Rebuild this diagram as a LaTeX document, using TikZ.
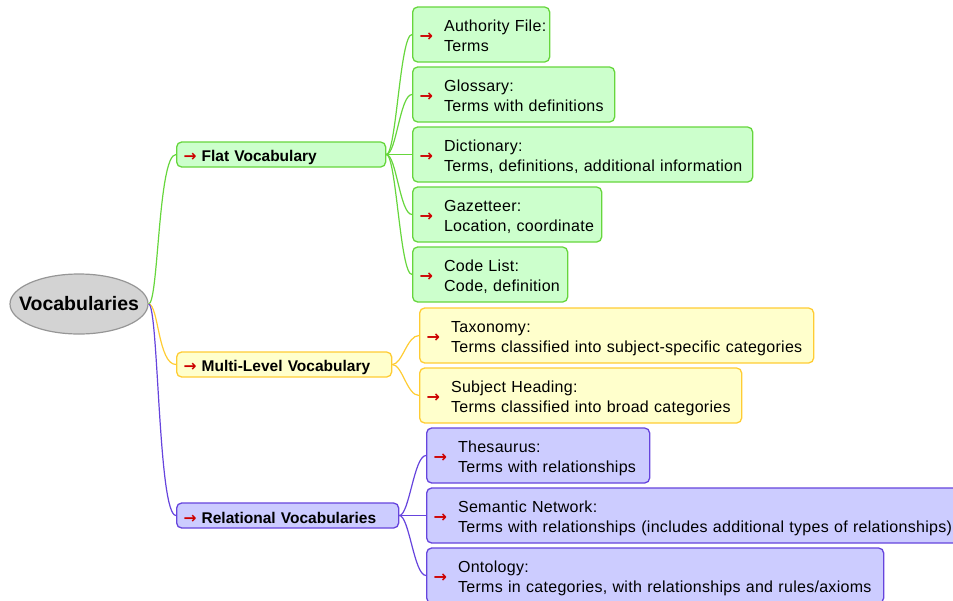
\documentclass[tikz,border=0pt]{standalone}
\usepackage{fontspec}
\setmainfont{Liberation Sans}
\newfontfamily\leaffont[LetterSpace=1.8]{Liberation Sans}
\newfontfamily\arrowfont{DejaVu Sans}
\usetikzlibrary{shapes.geometric}
\definecolor{gfill}{RGB}{204,255,204}
\definecolor{gline}{RGB}{102,214,60}
\definecolor{yfill}{RGB}{255,255,204}
\definecolor{yline}{RGB}{255,204,51}
\definecolor{bfill}{RGB}{204,204,255}
\definecolor{bline}{RGB}{102,68,221}
\definecolor{arrred}{RGB}{204,0,0}
\definecolor{rootfill}{RGB}{211,211,211}
\definecolor{rootline}{RGB}{150,150,150}
\newcommand\redarr{{\arrowfont\bfseries\color{arrred}\char"2192}}
\newcommand\leafcontent[2]{\raisebox{-2.5pt}[\height][\depth]{\redarr\hspace{11pt}\begin{tabular}{@{}l@{}}#1\\#2\end{tabular}}}
\newcommand\branchcontent[1]{\raisebox{-2.5pt}[\height][\depth]{\redarr\hspace{5pt}#1}}
\tikzset{
  leafbox/.style={draw, rounded corners=5pt, line width=1.3pt, anchor=west,
    inner xsep=7pt, inner ysep=0pt, minimum height=55pt, text width=#1-14pt,
    align=left, font=\leaffont\fontsize{16}{20}\selectfont},
  branchbox/.style={draw, rounded corners=5pt, line width=1.3pt, anchor=west,
    inner xsep=7pt, inner ysep=0pt, minimum height=25pt, text width=#1-14pt,
    align=left, font=\fontsize{15.5}{18}\selectfont\bfseries},
  green/.style={fill=gfill, draw=gline},
  yellow/.style={fill=yfill, draw=yline},
  blue/.style={fill=bfill, draw=bline},
  conn/.style={line width=1.2pt},
}
\begin{document}
\begin{tikzpicture}[x=1pt,y=-1pt]
\useasboundingbox (0,0) rectangle (953,600);
\clip (0,0) rectangle (953,600);
% root
\node[ellipse, fill=rootfill, draw=rootline, line width=1.2pt, minimum width=138pt, minimum height=60pt,
  inner xsep=-12pt, inner ysep=0pt, font=\fontsize{19.5}{22}\selectfont\bfseries] (root) at (79,304) {Vocabularies};
% branches
\node[branchbox=209pt, green] (flat) at (176,154.5) {\branchcontent{Flat Vocabulary}};
\node[branchbox=215pt, yellow] (multi) at (176,364.5) {\branchcontent{Multi-Level Vocabulary}};
\node[branchbox=222pt, blue] (rel) at (176,515.5) {\branchcontent{Relational Vocabularies}};
% green leaves
\node[leafbox=137pt, green] (auth) at (412,34.5) {\leafcontent{Authority File:}{Terms}};
\node[leafbox=202pt, green] (gloss) at (412,94.5) {\leafcontent{Glossary:}{Terms with definitions}};
\node[leafbox=340pt, green] (dict) at (412,154.5) {\leafcontent{Dictionary:}{Terms, definitions, additional information}};
\node[leafbox=189pt, green] (gaz) at (412,214.5) {\leafcontent{Gazetteer:}{Location, coordinate}};
\node[leafbox=155pt, green] (code) at (412,274.5) {\leafcontent{Code List:}{Code, definition}};
% yellow leaves
\node[leafbox=394pt, yellow] (tax) at (419,335.5) {\leafcontent{Taxonomy:}{Terms classified into subject-specific categories}};
\node[leafbox=322pt, yellow] (subj) at (419,395.5) {\leafcontent{Subject Heading:}{Terms classified into broad categories}};
% blue leaves
\node[leafbox=223pt, blue] (thes) at (426,455.5) {\leafcontent{Thesaurus:}{Terms with relationships}};
\node[leafbox=540pt, blue] (sem) at (426,515.5) {\leafcontent{Semantic Network:}{Terms with relationships (includes additional types of relationships)}};
\node[leafbox=457pt, blue] (onto) at (426,575.5) {\leafcontent{Ontology:}{Terms in categories, with relationships and rules/axioms}};
% connectors
\draw[conn, gline] (root.east) .. controls +(10,0) and +(-18,0) .. (flat.west);
\draw[conn, yline] (root.east) .. controls +(10,0) and +(-18,0) .. (multi.west);
\draw[conn, bline] (root.east) .. controls +(10,0) and +(-18,0) .. (rel.west);
\foreach \n in {auth,gloss,dict,gaz,code}
  \draw[conn, gline] (flat.east) .. controls +(10,0) and +(-12,0) .. (\n.west);
\foreach \n in {tax,subj}
  \draw[conn, yline] (multi.east) .. controls +(10,0) and +(-12,0) .. (\n.west);
\foreach \n in {thes,sem,onto}
  \draw[conn, bline] (rel.east) .. controls +(10,0) and +(-12,0) .. (\n.west);
\end{tikzpicture}
\end{document}
